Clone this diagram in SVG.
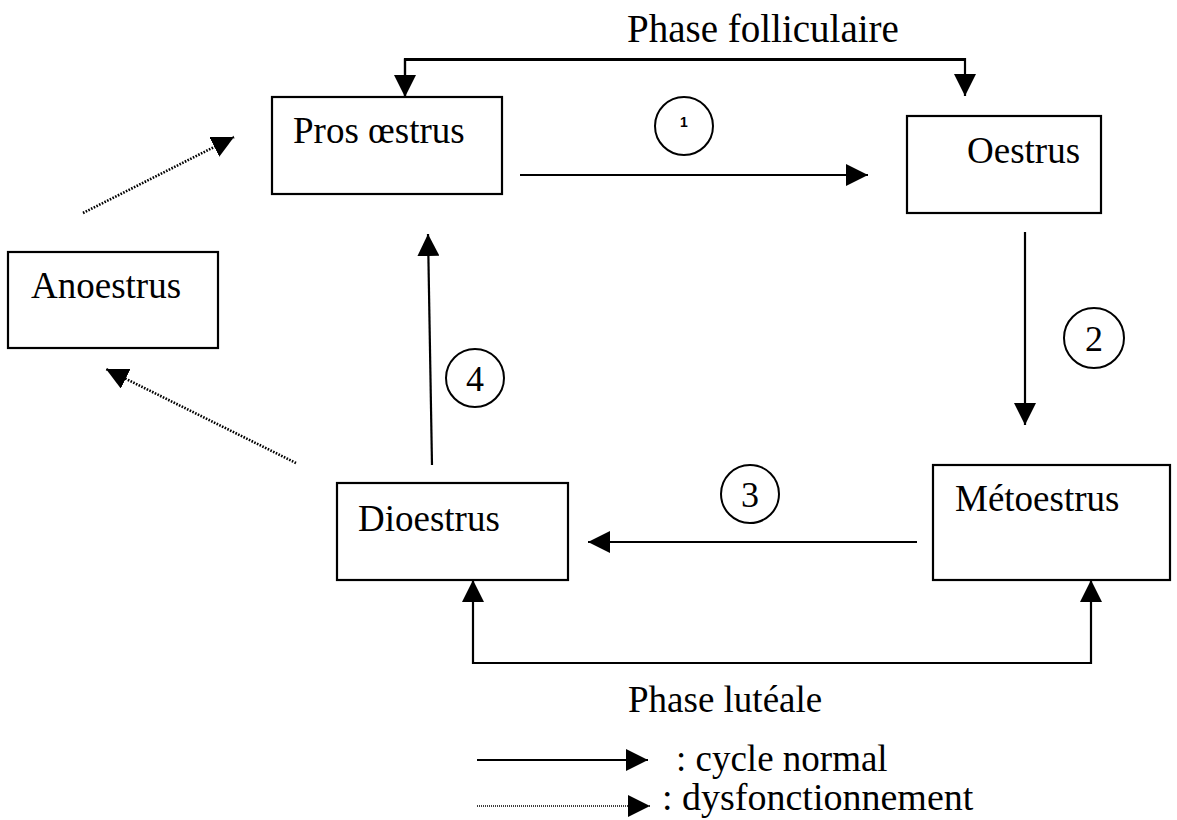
<svg xmlns="http://www.w3.org/2000/svg" width="1177" height="820" viewBox="0 0 1177 820">
<style>
.box{fill:#fff;stroke:#000;stroke-width:2.2}
.lbl{font-family:"Liberation Serif","Times New Roman",serif;font-size:37px;fill:#000}
.num{font-family:"Liberation Serif","Times New Roman",serif;font-size:36px;fill:#000;text-anchor:middle}
.ln{fill:none;stroke:#000;stroke-width:2.2}
.dot{fill:none;stroke:#000;stroke-width:2.6;stroke-dasharray:1.6 1.4}
.circ{fill:none;stroke:#000;stroke-width:2}
</style>
<defs>
<marker id="ah" markerUnits="userSpaceOnUse" markerWidth="22" markerHeight="22" viewBox="0 0 20 20" refX="20" refY="10" orient="auto">
<path d="M0,0 L20,10 L0,20 z" fill="#000"/>
</marker>
</defs>
<rect width="1177" height="820" fill="#fff"/>

<g id="connectors">
<path class="ln" d="M405,97 V59 H965 V96" marker-end="url(#ah)"/>
<path class="ln" d="M965,60 H405 V97" marker-end="url(#ah)"/>
<path class="ln" d="M520,175 H868" marker-end="url(#ah)"/>
<path class="ln" d="M1025,232 V425" marker-end="url(#ah)"/>
<path class="ln" d="M917,542 H588" marker-end="url(#ah)"/>
<path class="ln" d="M432,465 L428,234" marker-end="url(#ah)"/>
<path class="ln" d="M1091,663 H473 V580" marker-end="url(#ah)"/>
<path class="ln" d="M473,663 H1091 V580" marker-end="url(#ah)"/>
<path class="dot" d="M83,213 L234,137" marker-end="url(#ah)"/>
<path class="dot" d="M296,463 L106,369" marker-end="url(#ah)"/>
</g>

<g id="labels">
<text class="lbl" x="627" y="42" style="font-size:39px">Phase folliculaire</text>
<text class="lbl" x="628" y="712">Phase lutéale</text>
<circle class="circ" cx="684" cy="126" r="29"/>
<text x="684" y="127" font-family="Liberation Sans, Arial, sans-serif" font-size="14" font-weight="bold" text-anchor="middle">1</text>
<circle class="circ" cx="1094" cy="338" r="30"/>
<text class="num" x="1094" y="351">2</text>
<circle class="circ" cx="750" cy="494" r="29"/>
<text class="num" x="750" y="507">3</text>
<circle class="circ" cx="475" cy="378" r="29"/>
<text class="num" x="475" y="391">4</text>
</g>

<g id="node-pros">
<rect class="box" x="272" y="97" width="230" height="97"/>
<text class="lbl" x="293" y="143">Pros œstrus</text>
</g>
<g id="node-oestrus">
<rect class="box" x="907" y="116" width="194" height="97"/>
<text class="lbl" x="967" y="163">Oestrus</text>
</g>
<g id="node-metoestrus">
<rect class="box" x="933" y="465" width="237" height="115"/>
<text class="lbl" x="955" y="511">Métoestrus</text>
</g>
<g id="node-dioestrus">
<rect class="box" x="337" y="483" width="231" height="97"/>
<text class="lbl" x="358" y="531">Dioestrus</text>
</g>
<g id="node-anoestrus">
<rect class="box" x="8" y="252" width="210" height="96"/>
<text class="lbl" x="31" y="298">Anoestrus</text>
</g>

<g id="legend">
<path class="ln" d="M477,760 H648" marker-end="url(#ah)"/>
<text class="lbl" x="676" y="771">: cycle normal</text>
<path d="M477,806 H650" fill="none" stroke="#000" stroke-width="1.3" stroke-dasharray="1 1" marker-end="url(#ah)"/>
<text class="lbl" x="662" y="810" style="font-size:38px">: dysfonctionnement</text>
</g>
</svg>
